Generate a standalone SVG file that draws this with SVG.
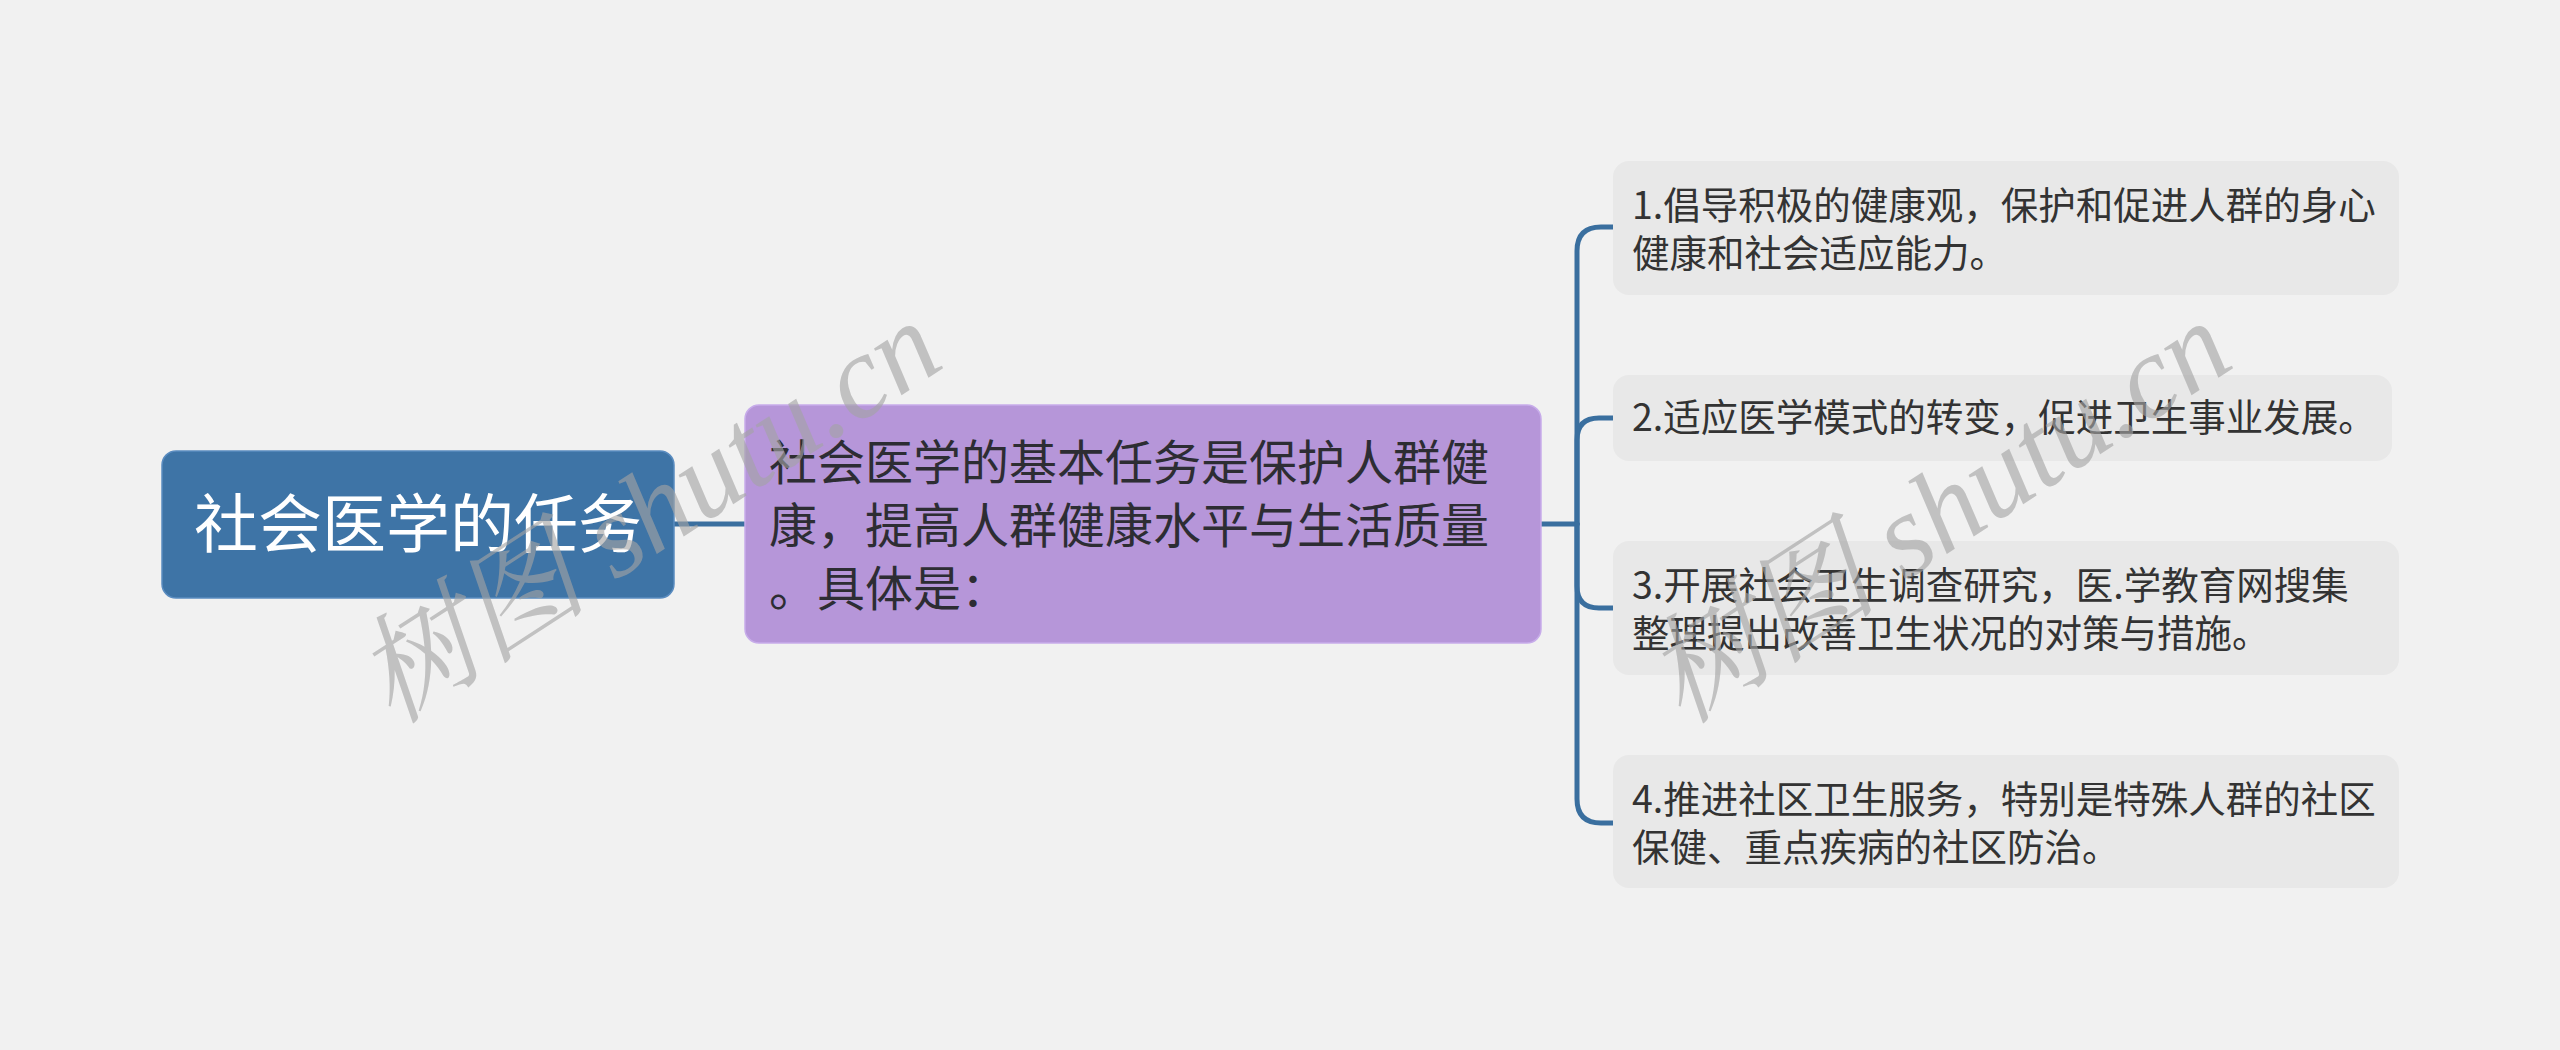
<svg xmlns="http://www.w3.org/2000/svg" width="2560" height="1050" viewBox="0 0 2560 1050">
<style>
.cjk{font-family:"Noto Sans CJK SC","Noto Sans",sans-serif;}
.root-t{fill:#ffffff;font-size:64px;}
.sub-t{fill:#2d2d33;font-size:48px;}
.leaf-t{fill:#333333;font-size:37.5px;}
.leaf{fill:#e8e8e8;}
.conn{fill:none;stroke:#3a6f9f;stroke-width:5;stroke-linecap:round;}
.wm{font-family:"Liberation Serif","Noto Serif CJK SC","Noto Sans CJK SC",serif;font-style:italic;font-size:118px;fill:#a4a4a4;opacity:0.62;}
</style>
<rect x="0" y="0" width="2560" height="1050" fill="#f1f1f1"/>
<g id="connectors">
<path class="conn" d="M674,524 H745"/>
<path class="conn" d="M1541,524 H1577"/>
<path class="conn" d="M1577,524 V251 Q1577,227 1601,227 H1613"/>
<path class="conn" d="M1577,524 V440 Q1577,418 1599,418 H1613"/>
<path class="conn" d="M1577,524 V586 Q1577,608 1599,608 H1613"/>
<path class="conn" d="M1577,524 V799 Q1577,823 1601,823 H1613"/>
</g>
<g id="root">
<rect x="162" y="451" width="512" height="147" rx="14" fill="#3e74a6" stroke="#5a8cc0" stroke-width="1.5"/>
<text class="cjk root-t" x="418" y="547" text-anchor="middle">社会医学的任务</text>
</g>
<g id="main">
<rect x="745" y="405" width="796" height="238" rx="14" fill="#b696d9" stroke="#c7acea" stroke-width="1.5"/>
<text class="cjk sub-t" x="769" y="480">社会医学的基本任务是保护人群健</text>
<text class="cjk sub-t" x="769" y="543">康，提高人群健康水平与生活质量</text>
<text class="cjk sub-t" x="769" y="606">。具体是：</text>
</g>
<g id="leaf1">
<rect class="leaf" x="1613" y="161" width="786" height="134" rx="16"/>
<text class="cjk leaf-t" x="1632" y="219">1.倡导积极的健康观，保护和促进人群的身心</text>
<text class="cjk leaf-t" x="1632" y="267">健康和社会适应能力。</text>
</g>
<g id="leaf2">
<rect class="leaf" x="1613" y="375" width="779" height="86" rx="16"/>
<text class="cjk leaf-t" x="1632" y="431">2.适应医学模式的转变，促进卫生事业发展。</text>
</g>
<g id="leaf3">
<rect class="leaf" x="1613" y="541" width="786" height="134" rx="16"/>
<text class="cjk leaf-t" x="1632" y="599">3.开展社会卫生调查研究，医.学教育网搜集</text>
<text class="cjk leaf-t" x="1632" y="647">整理提出改善卫生状况的对策与措施。</text>
</g>
<g id="leaf4">
<rect class="leaf" x="1613" y="755" width="786" height="133" rx="16"/>
<text class="cjk leaf-t" x="1632" y="813">4.推进社区卫生服务，特别是特殊人群的社区</text>
<text class="cjk leaf-t" x="1632" y="861">保健、重点疾病的社区防治。</text>
</g>
<g id="watermarks">
<text class="wm" x="648" y="552" text-anchor="middle" transform="rotate(-33 648 512)">树图 shutu.cn</text>
<text class="wm" x="1938" y="552" text-anchor="middle" transform="rotate(-33 1938 512)">树图 shutu.cn</text>
</g>
</svg>
